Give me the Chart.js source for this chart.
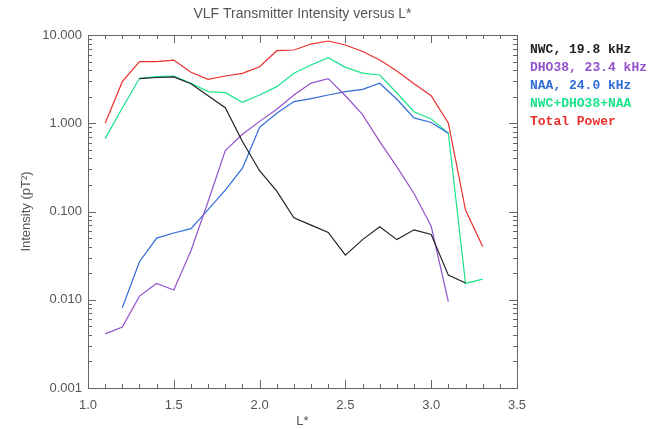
<!DOCTYPE html>
<html>
<head>
<meta charset="utf-8">
<script src="https://cdn.jsdelivr.net/npm/chart.js@4.4.0/dist/chart.umd.min.js"></script>
<style>
  html, body { margin: 0; padding: 0; background: #fff; }
  #wrap { width: 652px; height: 429px; position: relative; }
</style>
</head>
<body>
<div id="wrap"><canvas id="vlfChart"></canvas></div>
<script>
  // L* bins (0.1 step)
  const lStar = [1.1, 1.2, 1.3, 1.4, 1.5, 1.6, 1.7, 1.8, 1.9, 2.0, 2.1, 2.2,
                 2.3, 2.4, 2.5, 2.6, 2.7, 2.8, 2.9, 3.0, 3.1, 3.2, 3.3];

  // intensities in pT^2
  const nwc   = [null, null, 3.2, 3.3, 3.35, 2.8, 2.05, 1.5, 0.62, 0.29, 0.17, 0.085,
                 0.07, 0.058, 0.032, 0.048, 0.067, 0.048, 0.062, 0.055, 0.019, 0.0155, null];
  const dho38 = [0.0041, 0.0049, 0.011, 0.0153, 0.0129, 0.036, 0.13, 0.49, 0.75, 1.05, 1.44, 2.09,
                 2.85, 3.2, 2.05, 1.25, 0.62, 0.32, 0.16, 0.068, 0.0095, null, null];
  const naa   = [null, 0.0081, 0.027, 0.05, 0.057, 0.064, 0.105, 0.175, 0.31, 0.9, 1.3, 1.76,
                 1.9, 2.09, 2.28, 2.42, 2.84, 1.87, 1.15, 1.02, 0.77, null, null];
  const sum3  = [0.67, 1.49, 3.23, 3.37, 3.43, 2.84, 2.28, 2.22, 1.73, 2.09, 2.6, 3.68,
                 4.57, 5.53, 4.3, 3.7, 3.52, 2.2, 1.35, 1.12, 0.77, 0.0153, 0.0171];
  const total = [1.0, 2.96, 4.99, 5.0, 5.2, 3.78, 3.15, 3.43, 3.68, 4.37, 6.64, 6.76,
                 7.9, 8.55, 7.7, 6.5, 5.2, 3.9, 2.8, 2.05, 1.0, 0.104, 0.04];

  const seriesNames  = ['NWC, 19.8 kHz', 'DHO38, 23.4 kHz', 'NAA, 24.0 kHz', 'NWC+DHO38+NAA', 'Total Power'];
  const seriesColors = ['#222222', '#9352cc', '#2f6bd8', '#19e38c', '#ea2f2c'];

  const yMajor = [0.001, 0.01, 0.1, 1, 10];
  const xMajor = [1.0, 1.5, 2.0, 2.5, 3.0, 3.5];

  const axisColor = '#666';
  const textColor = '#555';

  function toPoints(vals) {
    return lStar.map((x, i) => ({ x: x, y: vals[i] }));
  }

  const allSeries = [nwc, dho38, naa, sum3, total];
  const datasets = allSeries.map((vals, i) => ({
    label: seriesNames[i],
    data: toPoints(vals),
    borderColor: seriesColors[i],
    borderWidth: 1.2,
    pointRadius: 0,
    tension: 0,
    fill: false,
    spanGaps: false
  }));

  // frame, inward ticks, title and text legend
  const decorPlugin = {
    id: 'decor',
    afterDraw(chart) {
      const ctx = chart.ctx;
      const a = chart.chartArea;
      const xs = chart.scales.x, ys = chart.scales.y;
      ctx.save();
      ctx.strokeStyle = axisColor;
      ctx.lineWidth = 1;
      ctx.strokeRect(Math.round(a.left) + 0.5, Math.round(a.top) + 0.5,
                     Math.round(a.right - a.left), Math.round(a.bottom - a.top));

      ctx.beginPath();
      // x ticks every 0.1, major every 0.5
      for (let k = 10; k <= 35; k++) {
        const v = k / 10;
        const px = Math.round(xs.getPixelForValue(v)) + 0.5;
        const len = (k % 5 === 0) ? 8 : 4;
        ctx.moveTo(px, a.bottom); ctx.lineTo(px, a.bottom - len);
        ctx.moveTo(px, a.top); ctx.lineTo(px, a.top + len);
      }
      // y ticks: decades plus 2..9 minors
      for (let e = -3; e <= 1; e++) {
        for (let m = 1; m <= 9; m++) {
          const v = m * Math.pow(10, e);
          if (v > 10.0001) break;
          const py = Math.round(ys.getPixelForValue(v)) + 0.5;
          const len = (m === 1) ? 8 : 4;
          ctx.moveTo(a.left, py); ctx.lineTo(a.left + len, py);
          ctx.moveTo(a.right, py); ctx.lineTo(a.right - len, py);
        }
      }
      ctx.stroke();

      // title over the plot area
      ctx.fillStyle = textColor;
      ctx.font = '14px "Liberation Sans", Arial, sans-serif';
      ctx.textAlign = 'center';
      ctx.textBaseline = 'middle';
      ctx.fillText('VLF Transmitter Intensity versus L*', (a.left + a.right) / 2, 14);

      // coloured text legend on the right
      ctx.font = 'bold 13px "Liberation Mono", "DejaVu Sans Mono", monospace';
      ctx.textAlign = 'left';
      chart.data.datasets.forEach((ds, i) => {
        ctx.fillStyle = ds.borderColor;
        ctx.fillText(ds.label, 530, 50 + i * 17.9);
      });
      ctx.restore();
    }
  };

  const ctx = document.getElementById('vlfChart').getContext('2d');
  new Chart(ctx, {
    type: 'line',
    data: { datasets: datasets },
    options: {
      responsive: true,
      maintainAspectRatio: false,
      animation: false,
      layout: { padding: { left: 0, top: 35, right: 135, bottom: 0 } },
      plugins: {
        legend: { display: false },
        title: { display: false },
        tooltip: { enabled: false }
      },
      scales: {
        x: {
          type: 'linear',
          min: 1.0,
          max: 3.5,
          afterBuildTicks: s => { s.ticks = xMajor.map(v => ({ value: v })); },
          afterFit: s => { s.height = 41; },
          grid: { display: false, drawTicks: false },
          border: { display: false },
          ticks: {
            color: textColor,
            font: { family: '"Liberation Sans", Arial, sans-serif', size: 13 },
            padding: 10,
            maxRotation: 0,
            autoSkip: false,
            callback: v => Number(v).toFixed(1)
          },
          title: {
            display: true,
            text: 'L*',
            color: textColor,
            font: { family: '"Liberation Sans", Arial, sans-serif', size: 13 },
            padding: { top: 0, bottom: 0 }
          }
        },
        y: {
          type: 'logarithmic',
          min: 0.001,
          max: 10,
          afterBuildTicks: s => { s.ticks = yMajor.map(v => ({ value: v })); },
          afterFit: s => { s.width = 88; },
          grid: { display: false, drawTicks: false },
          border: { display: false },
          ticks: {
            color: textColor,
            font: { family: '"Liberation Sans", Arial, sans-serif', size: 13 },
            padding: 6,
            autoSkip: false,
            callback: v => Number(v).toFixed(3)
          },
          title: {
            display: true,
            text: 'Intensity (pT²)',
            color: textColor,
            font: { family: '"Liberation Sans", Arial, sans-serif', size: 13 },
            padding: { top: 19, bottom: 0 }
          }
        }
      }
    },
    plugins: [decorPlugin]
  });
</script>
</body>
</html>
